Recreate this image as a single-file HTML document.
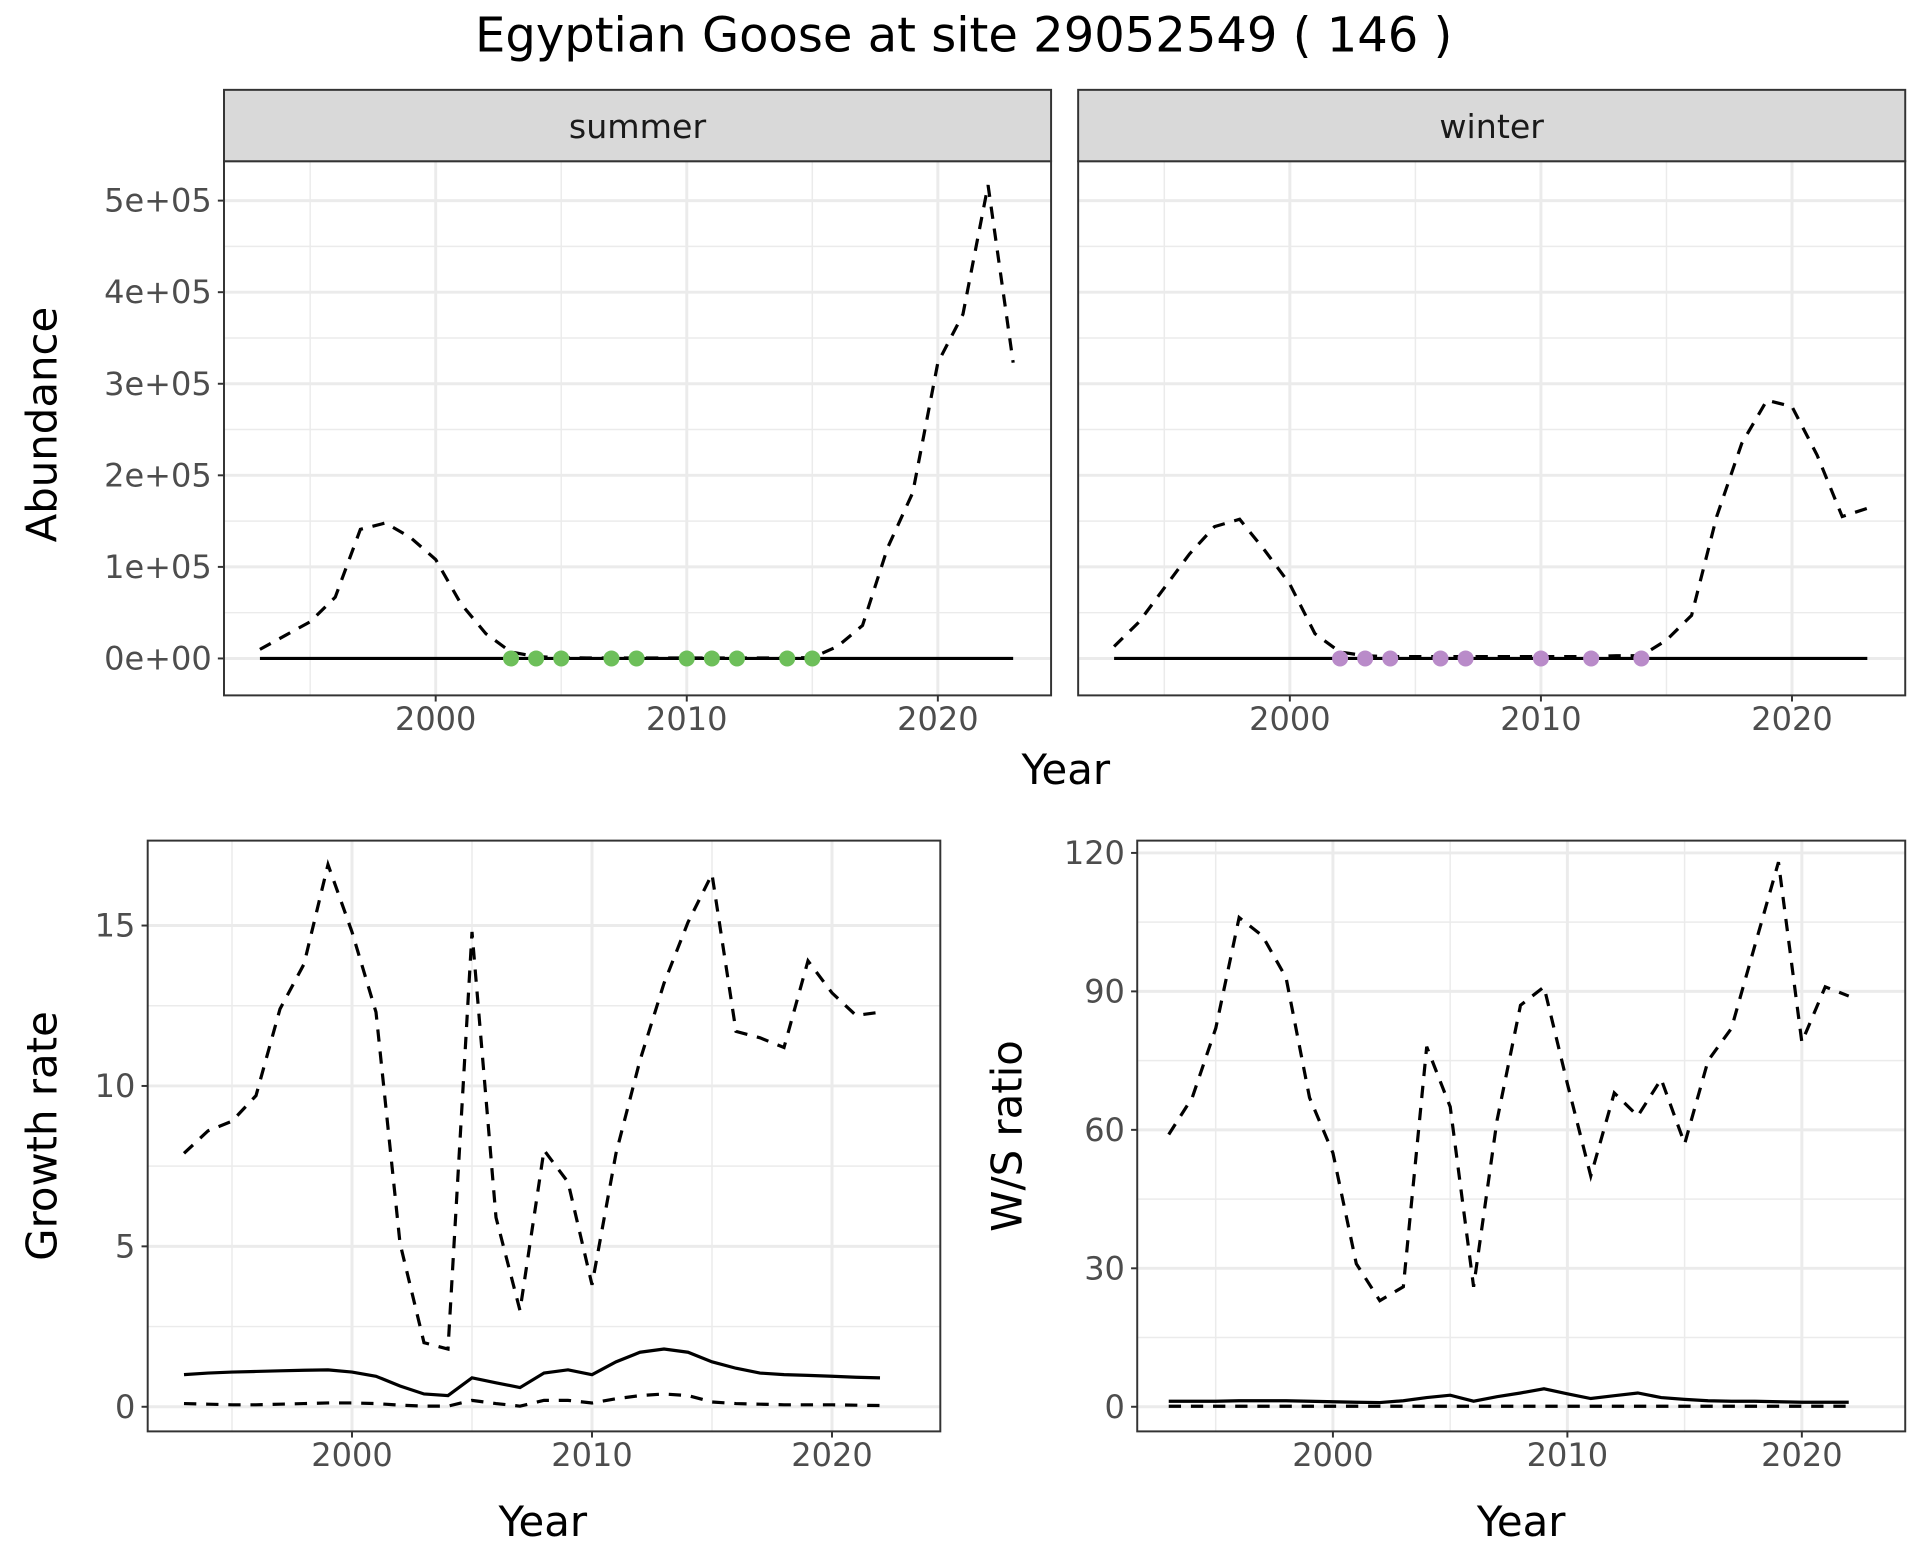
<!DOCTYPE html>
<html><head><meta charset="utf-8"><style>
html,body{margin:0;padding:0;background:#fff}
svg{display:block}
text{font-family:"DejaVu Sans","Liberation Sans",sans-serif}
</style></head><body>
<svg id="chart" width="1920" height="1560" viewBox="0 0 1560 1267.5" xmlns="http://www.w3.org/2000/svg">
<text x="783" y="42" font-size="39" text-anchor="middle">Egyptian Goose at site 29052549 ( 146 )</text>
</svg>
<script>
const yearsA = [1993,1994,1995,1996,1997,1998,1999,2000,2001,2002,2003,2004,2005,2006,2007,2008,2009,2010,2011,2012,2013,2014,2015,2016,2017,2018,2019,2020,2021,2022,2023];
const summerDashed = [10000,25000,40000,67000,141000,148000,132000,108000,60000,27000,7000,2000,1000,500,500,500,500,500,500,500,500,500,1000,13000,36000,121000,181000,323000,376000,517000,323000];
const winterDashed = [13000,40000,77000,114000,144000,152000,118000,81000,27000,7000,3000,2000,2000,2000,2000,2000,2000,2000,2000,2000,3000,3000,20000,47000,155000,235000,282000,275000,222000,155000,164000];
const summerSolid = yearsA.map(()=>0);
const winterSolid = yearsA.map(()=>0);
const summerObsYears = [2003,2004,2005,2007,2008,2010,2011,2012,2014,2015];
const winterObsYears = [2002,2003,2004,2006,2007,2010,2012,2014];
const abTicks = [0,100000,200000,300000,400000,500000];
const abTickLabels = ["0e+00","1e+05","2e+05","3e+05","4e+05","5e+05"];
const yearTicks = [2000,2010,2020];

const yearsB = [1993,1994,1995,1996,1997,1998,1999,2000,2001,2002,2003,2004,2005,2006,2007,2008,2009,2010,2011,2012,2013,2014,2015,2016,2017,2018,2019,2020,2021,2022];
const growthUpper = [7.9,8.6,8.9,9.7,12.4,13.8,16.9,14.8,12.3,5.1,2.0,1.8,14.8,5.9,3.0,8.0,7.0,3.8,7.9,10.8,13.2,15.1,16.6,11.7,11.5,11.2,13.9,12.9,12.2,12.3];
const growthMid = [1.0,1.05,1.08,1.1,1.12,1.14,1.15,1.08,0.95,0.65,0.4,0.35,0.9,0.75,0.6,1.05,1.15,1.0,1.4,1.7,1.8,1.7,1.4,1.2,1.05,1.0,0.98,0.95,0.92,0.9];
const growthLower = [0.1,0.08,0.06,0.06,0.08,0.1,0.12,0.12,0.1,0.05,0.02,0.02,0.2,0.1,0.02,0.2,0.2,0.12,0.25,0.35,0.4,0.35,0.15,0.1,0.08,0.06,0.06,0.06,0.05,0.04];
const growthTicks = [0,5,10,15];
const wsUpper = [59,67,82,106,102,93,67,55,31,23,26,78,65,26,62,87,91,70,50,68,63,71,57,75,82,100,118,79,91,89];
const wsMid = [1.2,1.2,1.2,1.3,1.3,1.3,1.2,1.1,1.0,0.9,1.3,2.0,2.5,1.2,2.2,3.0,3.9,2.8,1.8,2.4,3.0,2.0,1.6,1.3,1.2,1.2,1.1,1.0,1.0,1.0];
const wsLower = [0.1,0.1,0.1,0.1,0.1,0.1,0.1,0.1,0.1,0.1,0.1,0.1,0.1,0.1,0.1,0.1,0.1,0.1,0.1,0.1,0.1,0.1,0.1,0.1,0.1,0.1,0.1,0.1,0.1,0.1];
const wsTicks = [0,30,60,90,120];

const svg = document.getElementById('chart');
const NS = 'http://www.w3.org/2000/svg';
function mk(tag, attrs, parent){const e=document.createElementNS(NS,tag);for(const k in attrs)e.setAttribute(k,attrs[k]);(parent||svg).appendChild(e);return e;}
function lin(d0,d1,r0,r1){return v=>r0+(v-d0)*(r1-r0)/(d1-d0);}

function panel(o){
  const g = mk('g',{});
  
  
  const {x0,x1,y0,y1,sx,sy} = o;
  o.yMinor.forEach(v=>{mk('line',{x1:x0,x2:x1,y1:sy(v),y2:sy(v),stroke:'#ebebeb','stroke-width':1.2},g);});
  o.xMinor.forEach(v=>{mk('line',{x1:sx(v),x2:sx(v),y1:y0,y2:y1,stroke:'#ebebeb','stroke-width':1.2},g);});
  o.yTicks.forEach(v=>{mk('line',{x1:x0,x2:x1,y1:sy(v),y2:sy(v),stroke:'#ebebeb','stroke-width':2.4},g);});
  yearTicks.forEach(v=>{mk('line',{x1:sx(v),x2:sx(v),y1:y0,y2:y1,stroke:'#ebebeb','stroke-width':2.4},g);});
  o.series.forEach(s=>{
    const p = mk('path',{d:s.ys.map((v,i)=>(i?'L':'M')+sx(s.xs[i]).toFixed(1)+','+sy(v).toFixed(1)).join(''),fill:'none',stroke:'#000','stroke-width':2.6,'stroke-dasharray':s.dash?'10,8':'none'},g);
    
    
  });
  (o.points||[]).forEach(yr=>{
    const c = mk('circle',{cx:sx(yr),cy:sy(0),r:6.5,fill:o.pointColor},g);
    
    
  });
  mk('rect',{x:x0,y:y0,width:x1-x0,height:y1-y0,fill:'none',stroke:'#333','stroke-width':1.6},g);
  if(o.showYLabels){
    o.yTicks.forEach((v,i)=>{
      mk('line',{x1:x0-5,x2:x0,y1:sy(v),y2:sy(v),stroke:'#333','stroke-width':1.6},g);
      const t=mk('text',{x:x0-10,y:sy(v)+9,'font-size':26,fill:'#4d4d4d','text-anchor':'end'},g);
      t.textContent=o.yLabels[i];
      
      
    });
  }
  yearTicks.forEach(v=>{
    mk('line',{x1:sx(v),x2:sx(v),y1:y1,y2:y1+5,stroke:'#333','stroke-width':1.6},g);
    const t=mk('text',{x:sx(v),y:y1+28,'font-size':26,fill:'#4d4d4d','text-anchor':'middle'},g);
    t.textContent=v;
    
    
  });
  if(o.strip){
    mk('rect',{x:x0,y:73,width:x1-x0,height:y0-73,fill:'#d9d9d9',stroke:'#333','stroke-width':1.6},g);
    const t=mk('text',{x:(x0+x1)/2,y:112,'font-size':27,fill:'#1a1a1a','text-anchor':'middle'},g);
    t.textContent=o.strip;
    
    
  }
}

const syA = lin(0,500000,535,163);
const xMinorA = [1995,2005,2015];
const yMinorA = [50000,150000,250000,350000,450000];
panel({name:'summer-panel',strip:'summer',x0:182,x1:854,y0:131,y1:565,sx:lin(2000,2020,354,762),sy:syA,yTicks:abTicks,yLabels:abTickLabels,showYLabels:true,xMinor:xMinorA,yMinor:yMinorA,
  series:[{ys:summerDashed,xs:yearsA,dash:true,name:'summer-model-dashed'},{ys:summerSolid,xs:yearsA,name:'summer-model-solid'}],points:summerObsYears,pointColor:'#6dbf5a'});
panel({name:'winter-panel',strip:'winter',x0:876,x1:1548,y0:131,y1:565,sx:lin(2000,2020,1048,1456),sy:syA,yTicks:abTicks,yLabels:abTickLabels,showYLabels:false,xMinor:xMinorA,yMinor:yMinorA,
  series:[{ys:winterDashed,xs:yearsA,dash:true,name:'winter-model-dashed'},{ys:winterSolid,xs:yearsA,name:'winter-model-solid'}],points:winterObsYears,pointColor:'#b98bc9'});

panel({name:'growth-panel',x0:120,x1:764,y0:683,y1:1163,sx:lin(2000,2020,286,676),sy:lin(0,15,1143,752),yTicks:growthTicks,yLabels:growthTicks.map(String),showYLabels:true,xMinor:xMinorA,yMinor:[2.5,7.5,12.5],
  series:[{ys:growthUpper,xs:yearsB,dash:true,name:'growth-upper'},{ys:growthMid,xs:yearsB,name:'growth-mean'},{ys:growthLower,xs:yearsB,dash:true,name:'growth-lower'}]});
panel({name:'ratio-panel',x0:924,x1:1548,y0:683,y1:1163,sx:lin(2000,2020,1083,1464),sy:lin(0,120,1143,693),yTicks:wsTicks,yLabels:wsTicks.map(String),showYLabels:true,xMinor:xMinorA,yMinor:[15,45,75,105],
  series:[{ys:wsUpper,xs:yearsB,dash:true,name:'ratio-upper'},{ys:wsMid,xs:yearsB,name:'ratio-mean'},{ys:wsLower,xs:yearsB,dash:true,name:'ratio-lower'}]});

function label(txt,x,y,rot,name){
  const t=mk('text',{x:x,y:y,'font-size':34,fill:'#000','text-anchor':'middle',transform:rot?`rotate(-90 ${x} ${y})`:''});
  t.textContent=txt;
  
  
}
label('Abundance',46,345,true,'y-axis-title-abundance');
label('Year',866,637,false,'x-axis-title-top');
label('Growth rate',46,923,true,'y-axis-title-growth');
label('Year',441,1248,false,'x-axis-title-growth');
label('W/S ratio',830,923,true,'y-axis-title-ratio');
label('Year',1236,1248,false,'x-axis-title-ratio');
</script>
</body></html>
